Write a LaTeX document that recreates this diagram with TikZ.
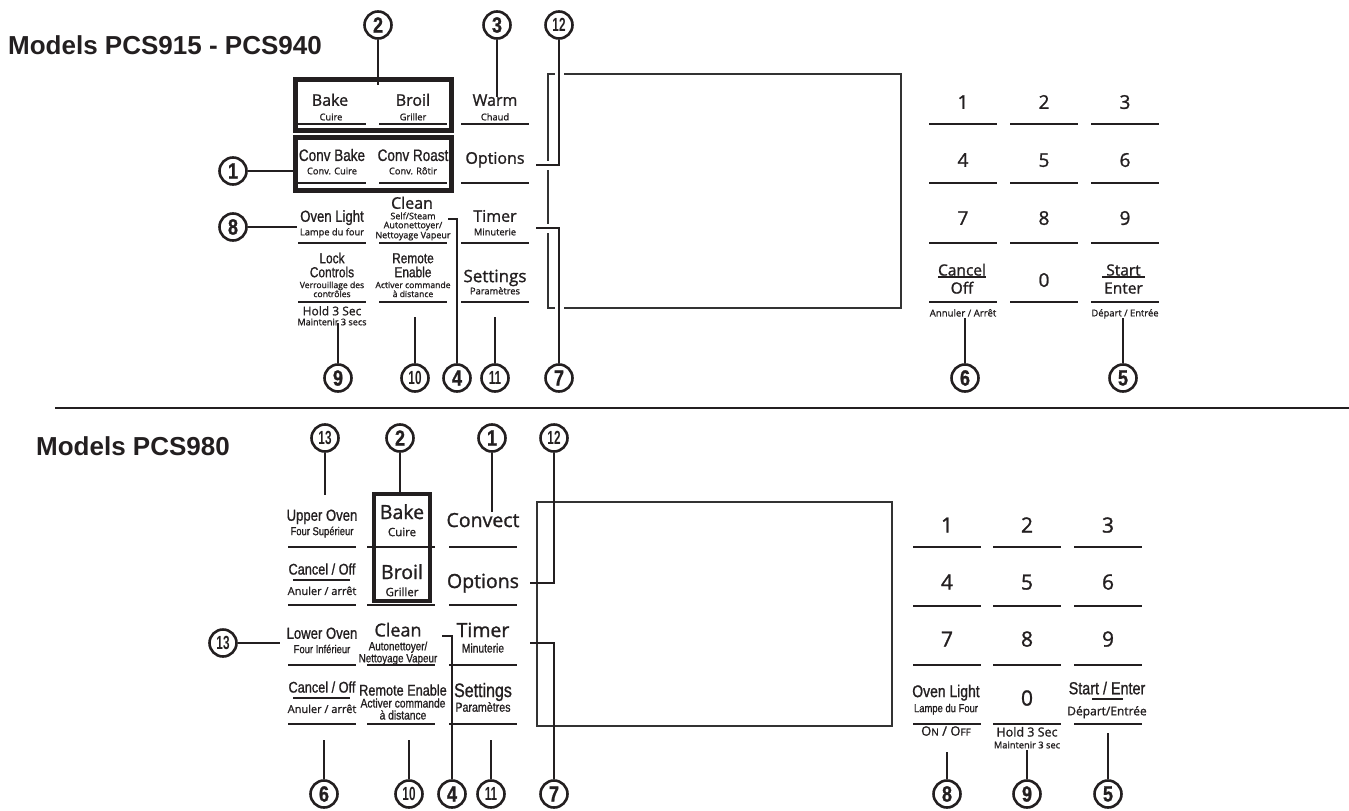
\documentclass[tikz,border=0pt]{standalone}
\usepackage{fontspec}
\setmainfont{Open Sans}
\newfontfamily\keyfont[FakeBold=1.2]{Open Sans}
\newfontfamily\condfont[FakeStretch=0.82, FakeBold=1]{Liberation Sans}
\newfontfamily\narrowfont[FakeStretch=0.62]{Liberation Sans}
\newfontfamily\headfont{Liberation Sans}
\definecolor{ink}{HTML}{231F20}
\tikzset{
  lbl/.style={anchor=base, yshift={-0.36*#1pt}, inner sep=0pt, text=ink},
  mainlbl/.style={lbl=#1, font=\keyfont\fontsize{#1}{#1}\selectfont},
  condlbl/.style={lbl=#1, font=\condfont\fontsize{#1}{#1}\selectfont},
  headline/.style={lbl=26, anchor=base west, font=\headfont\bfseries\fontsize{26}{26}\selectfont},
  callout/.style={circle, draw=ink, line width=2.6pt, minimum size=27pt, inner sep=0pt, text=ink,
    font=\condfont\bfseries\fontsize{22}{22}\selectfont},
  calloutw/.style={callout, font=\narrowfont\bfseries\fontsize{19}{19}\selectfont},
  leader/.style={draw=ink, line width=2.6pt},
  hop/.style={preaction={draw=white, line width=9pt}},
  keyline/.style={draw=ink, line width=2pt},
  splitline/.style={draw=ink, line width=1.4pt},
  selbox/.style={draw=ink, line width=5pt, inner sep=0pt},
  display/.style={draw=black!80, line width=1.3pt}
}
\begin{document}
\begin{tikzpicture}[x=1pt, y=-1pt]
  \useasboundingbox (0,0) rectangle (1349,811);

  % ---------- Models PCS915 - PCS940 ----------
  \node[headline] (titleA) at (8,45) {Models PCS915 - PCS940};

  \foreach \y in {124,183,243,302}
    \foreach \a/\b in {298/366,379/447,461/529}
      \draw[keyline] (\a,\y) -- (\b,\y);
  \foreach \y in {124,183,243,302}
    \foreach \a in {929,1010,1091}
      \draw[keyline] (\a,\y) -- ++(68,0);

  \node[selbox, minimum width=156pt, minimum height=51pt] (bakebroil) at (373.5,105) {};
  \node[selbox, minimum width=156pt, minimum height=53pt] (convbox) at (373.5,164) {};

  \node[mainlbl=16] (bake) at (330,100) {Bake};
  \node[mainlbl=9.3] (cuire) at (331,117) {Cuire};
  \node[mainlbl=16] (broil) at (413,100) {Broil};
  \node[mainlbl=9.3] (griller) at (413,117) {Griller};
  \node[mainlbl=16] (warm) at (495,100) {Warm};
  \node[mainlbl=9.3] (chaud) at (495,117) {Chaud};
  \node[condlbl=16.5] (convbake) at (332,155) {Conv Bake};
  \node[mainlbl=9.3] (convcuire) at (332,171) {Conv. Cuire};
  \node[condlbl=16.5] (convroast) at (413,155) {Conv Roast};
  \node[mainlbl=9.3] (convrotir) at (413,171) {Conv. Rôtir};
  \node[mainlbl=16] (options) at (495,158) {Options};
  \node[condlbl=16] (ovenlight) at (332,216) {Oven Light};
  \node[mainlbl=9.3] (lampe) at (332,232) {Lampe du four};
  \node[mainlbl=16] (clean) at (412,203) {Clean};
  \node[mainlbl=9] (selfsteam) at (413,216) {Self/Steam};
  \node[mainlbl=9] (autonet) at (413,225) {Autonettoyer/};
  \node[mainlbl=9] (nettoyage) at (413,235) {Nettoyage Vapeur};
  \node[mainlbl=16] (timer) at (495,216) {Timer};
  \node[mainlbl=9.3] (minuterie) at (495,232) {Minuterie};
  \node[condlbl=14.5] (lock) at (332,258) {Lock};
  \node[condlbl=14.5] (controls) at (332,272) {Controls};
  \node[mainlbl=8.6] (verrou) at (332,285) {Verrouillage des};
  \node[mainlbl=8.6] (controles) at (332,294) {contrôles};
  \node[condlbl=14.5] (remote) at (413,258) {Remote};
  \node[condlbl=14.5] (enable) at (413,272) {Enable};
  \node[mainlbl=8.6] (activer) at (413,285) {Activer commande};
  \node[mainlbl=8.6] (distance) at (413,294) {à distance};
  \node[mainlbl=17] (settings) at (495,276) {Settings};
  \node[mainlbl=9.3] (parametres) at (495,291) {Paramètres};
  \node[mainlbl=12] (hold) at (332,311) {Hold 3 Sec};
  \node[mainlbl=9.1] (maintenir) at (332,322) {Maintenir 3 secs};

  % keypad
  \foreach \d/\x/\y in {1/963/102,2/1044/102,3/1125/102,4/963/160,5/1044/160,6/1125/160,
                        7/963/218,8/1044/218,9/1125/218,0/1044/280}
    \node[mainlbl=19] (tk\d) at (\x,\y) {\d};
  \node[mainlbl=15.5] (cancel) at (962,270) {Cancel};
  \node[mainlbl=15.5] (off) at (962,288) {Off};
  \draw[splitline] (938,277) -- (986,277);
  \node[mainlbl=15.5] (start) at (1123.5,270) {Start};
  \node[mainlbl=15.5] (enter) at (1123.5,288) {Enter};
  \draw[splitline] (1102,277) -- (1145,277);
  \node[mainlbl=9.6] (annuler) at (963,313) {Annuler / Arrêt};
  \node[mainlbl=9.4] (depart) at (1125,313) {Départ / Entrée};

  % display
  \draw[display] (548,74) rectangle (901,308);

  % callouts
  \node[callout] (t1) at (233,171) {1};
  \node[callout] (t2) at (378,25) {2};
  \node[callout] (t3) at (497,25) {3};
  \node[calloutw] (t12) at (559,25) {12};
  \node[callout] (t8) at (233,227) {8};
  \node[callout] (t9) at (338,378) {9};
  \node[calloutw] (t10) at (415,378) {10};
  \node[callout] (t4) at (457,378) {4};
  \node[calloutw] (t11) at (495,378) {11};
  \node[callout] (t7) at (559,378) {7};
  \node[callout] (t6) at (965,378) {6};
  \node[callout] (t5) at (1123,378) {5};

  \coordinate (e2) at (378,85);
  \coordinate (e3) at (497,97);
  \coordinate (e12) at (536,165);
  \coordinate (e8) at (297,227);
  \coordinate (e4) at (448,219);
  \coordinate (e7) at (536,228);
  \coordinate (e9) at (338,323);
  \coordinate (e10) at (415,317);
  \coordinate (e11) at (495,317);
  \coordinate (e6) at (965,318);
  \coordinate (e5) at (1123,318);

  \draw[leader] (t1.east) -- (t1.east -| convbox.west);
  \draw[leader] (t2.south) -- (e2);
  \draw[leader] (t3.south) -- (e3);
  \draw[leader, hop] (t12.south) |- (e12);
  \draw[leader] (t8.east) -- (e8);
  \draw[leader] (t4.north) |- (e4);
  \draw[leader, hop] (t7.north) |- (e7);
  \draw[leader] (e9) -- (t9.north);
  \draw[leader] (e10) -- (t10.north);
  \draw[leader] (e11) -- (t11.north);
  \draw[leader] (e6) -- (t6.north);
  \draw[leader] (e5) -- (t5.north);

  \draw[line width=1.3pt, ink] (55,408) -- (1349,408);

  % ---------- Models PCS980 ----------
  \node[headline] (titleB) at (36,446) {Models PCS980};

  \foreach \y in {547,605,665,724}
    \foreach \a/\b in {288/356,367/435,449/517}
      \draw[keyline] (\a,\y) -- (\b,\y);
  \foreach \y in {547,606,665,724}
    \foreach \a in {913,993,1074}
      \draw[keyline] (\a,\y) -- ++(68,0);

  \node[selbox, line width=4pt, minimum width=56pt, minimum height=107pt] (bakebox) at (402,547.5) {};

  \node[condlbl=16] (upper) at (322,515) {Upper Oven};
  \node[condlbl=11.5] (foursup) at (322,531) {Four Supérieur};
  \node[mainlbl=19.5] (bakeB) at (402,512) {Bake};
  \node[mainlbl=11.5] (cuireB) at (402,532) {Cuire};
  \node[mainlbl=19.5] (convect) at (483,520) {Convect};
  \node[condlbl=15.5] (cancelU) at (322,569) {Cancel / Off};
  \draw[splitline] (293,580) -- (350,580);
  \node[mainlbl=11] (anulerU) at (322,591) {Anuler / arrêt};
  \node[mainlbl=19.5] (broilB) at (402,572) {Broil};
  \node[mainlbl=11.5] (grillerB) at (402,592) {Griller};
  \node[mainlbl=19.5] (optionsB) at (483,581) {Options};
  \node[condlbl=16] (lower) at (322,633) {Lower Oven};
  \node[condlbl=11.5] (fourinf) at (322,649) {Four Inférieur};
  \node[mainlbl=18] (cleanB) at (398,630) {Clean};
  \node[condlbl=12] (autonetB) at (398,646) {Autonettoyer/};
  \node[condlbl=12] (nettoyageB) at (398,658) {Nettoyage Vapeur};
  \node[mainlbl=19.5] (timerB) at (483,630) {Timer};
  \node[condlbl=12.5] (minuterieB) at (483,648) {Minuterie};
  \node[condlbl=15.5] (cancelL) at (322,687) {Cancel / Off};
  \draw[splitline] (293,698) -- (350,698);
  \node[mainlbl=11] (anulerL) at (322,709) {Anuler / arrêt};
  \node[condlbl=15.5] (remoteB) at (403,690) {Remote Enable};
  \node[condlbl=12.5] (activerB) at (403,703) {Activer commande};
  \node[condlbl=12.5] (distanceB) at (403,715) {à distance};
  \node[condlbl=19.5] (settingsB) at (483,690) {Settings};
  \node[condlbl=13] (parametresB) at (483,707) {Paramètres};

  % keypad
  \foreach \d/\x/\y in {1/947/525,2/1027/525,3/1108/525,4/947/582,5/1027/582,6/1108/582,
                        7/947/639,8/1027/639,9/1108/639,0/1027/698}
    \node[mainlbl=21] (bk\d) at (\x,\y) {\d};
  \node[condlbl=17] (ovenlightB) at (946,691) {Oven Light};
  \node[condlbl=11.5] (lampeB) at (946,708) {Lampe du Four};
  \node[mainlbl=13] (onoff) at (946,731) {O{\fontsize{10}{10}\selectfont N} / O{\fontsize{10}{10}\selectfont FF}};
  \node[condlbl=17.5] (startB) at (1107,688) {Start / Enter};
  \draw[splitline] (1092,699) -- (1123,699);
  \node[mainlbl=12] (departB) at (1107,711) {Départ/Entrée};
  \node[mainlbl=12.5] (holdB) at (1027,732) {Hold 3 Sec};
  \node[mainlbl=9.3] (maintenirB) at (1027,745) {Maintenir 3 sec};

  % display
  \draw[display, line width=2.2pt] (537,502) rectangle (892,726);

  % callouts
  \node[calloutw] (b13u) at (325,438) {13};
  \node[callout] (b2) at (400,438) {2};
  \node[callout] (b1) at (492,438) {1};
  \node[calloutw] (b12) at (554,438) {12};
  \node[calloutw] (b13l) at (223,643) {13};
  \node[callout] (b6) at (324,794) {6};
  \node[calloutw] (b10) at (409,794) {10};
  \node[callout] (b4) at (452,794) {4};
  \node[calloutw] (b11) at (491,794) {11};
  \node[callout] (b7) at (554,794) {7};
  \node[callout] (b8) at (947,794) {8};
  \node[callout] (b9) at (1027,794) {9};
  \node[callout] (b5) at (1108,794) {5};

  \coordinate (f13u) at (325,495);
  \coordinate (f1) at (492,512);
  \coordinate (f12) at (530,583);
  \coordinate (f13l) at (280,643);
  \coordinate (f4) at (442,636);
  \coordinate (f7) at (530,643);
  \coordinate (f6) at (324,740);
  \coordinate (f10) at (409,740);
  \coordinate (f11) at (491,740);
  \coordinate (f8) at (947,752);
  \coordinate (f9) at (1027,750);
  \coordinate (f5) at (1108,733);

  \draw[leader] (b13u.south) -- (f13u);
  \draw[leader] (b2.south) -- (b2.south |- bakebox.north);
  \draw[leader] (b1.south) -- (f1);
  \draw[leader] (b12.south) |- (f12);
  \draw[leader] (b13l.east) -- (f13l);
  \draw[leader] (b4.north) |- (f4);
  \draw[leader] (b7.north) |- (f7);
  \draw[leader] (f6) -- (b6.north);
  \draw[leader] (f10) -- (b10.north);
  \draw[leader] (f11) -- (b11.north);
  \draw[leader] (f8) -- (b8.north);
  \draw[leader] (f9) -- (b9.north);
  \draw[leader] (f5) -- (b5.north);
\end{tikzpicture}
\end{document}
